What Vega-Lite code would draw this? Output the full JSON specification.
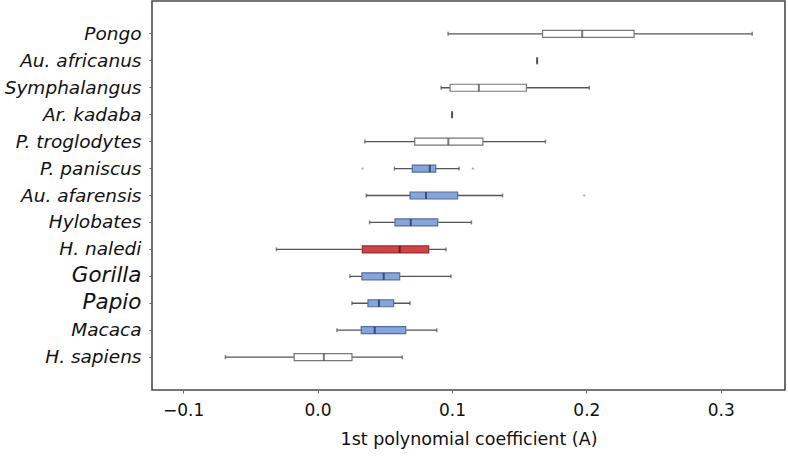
{
  "$schema": "https://vega.github.io/schema/vega-lite/v6.json",
  "width": 633,
  "height": 389,
  "autosize": {"type": "none"},
  "padding": {"left": 152, "top": 1, "right": 3, "bottom": 66},
  "background": "white",
  "config": {
    "view": {"stroke": "#4a4a4a", "strokeWidth": 1.6},
    "font": "DejaVu Sans"
  },
  "datasets": {
    "boxes": [
      {"species": "Pongo", "grp": "white", "lo": 0.0971, "q1": 0.1674, "med": 0.1969, "q3": 0.2355, "hi": 0.3234},
      {"species": "Au. africanus", "grp": "white", "lo": 0.1634, "q1": 0.1634, "med": 0.1634, "q3": 0.1634, "hi": 0.1634},
      {"species": "Symphalangus", "grp": "white", "lo": 0.0919, "q1": 0.0986, "med": 0.12, "q3": 0.1554, "hi": 0.2022},
      {"species": "Ar. kadaba", "grp": "white", "lo": 0.1001, "q1": 0.1001, "med": 0.1001, "q3": 0.1001, "hi": 0.1001},
      {"species": "P. troglodytes", "grp": "white", "lo": 0.0352, "q1": 0.0723, "med": 0.0973, "q3": 0.123, "hi": 0.1696},
      {"species": "P. paniscus", "grp": "blue", "lo": 0.0572, "q1": 0.0705, "med": 0.0835, "q3": 0.0879, "hi": 0.1053},
      {"species": "Au. afarensis", "grp": "blue", "lo": 0.0362, "q1": 0.0688, "med": 0.0807, "q3": 0.1042, "hi": 0.1376},
      {"species": "Hylobates", "grp": "blue", "lo": 0.0387, "q1": 0.0576, "med": 0.0693, "q3": 0.0894, "hi": 0.1145},
      {"species": "H. naledi", "grp": "red", "lo": -0.0306, "q1": 0.0333, "med": 0.0611, "q3": 0.0827, "hi": 0.0956},
      {"species": "Gorilla", "grp": "blue", "lo": 0.0241, "q1": 0.033, "med": 0.0492, "q3": 0.0611, "hi": 0.0993},
      {"species": "Papio", "grp": "blue", "lo": 0.0256, "q1": 0.0375, "med": 0.0457, "q3": 0.0566, "hi": 0.0688},
      {"species": "Macaca", "grp": "blue", "lo": 0.0144, "q1": 0.0325, "med": 0.0425, "q3": 0.0656, "hi": 0.0887},
      {"species": "H. sapiens", "grp": "white", "lo": -0.0686, "q1": -0.0174, "med": 0.0047, "q3": 0.0256, "hi": 0.063}
    ],
    "outliers": [
      {"species": "P. paniscus", "value": 0.0335},
      {"species": "P. paniscus", "value": 0.1155},
      {"species": "Au. afarensis", "value": 0.1984}
    ]
  },
  "encoding": {
    "y": {
      "field": "species",
      "type": "nominal",
      "sort": ["Pongo", "Au. africanus", "Symphalangus", "Ar. kadaba", "P. troglodytes", "P. paniscus", "Au. afarensis", "Hylobates", "H. naledi", "Gorilla", "Papio", "Macaca", "H. sapiens"],
      "scale": {"type": "band", "paddingInner": 0, "paddingOuter": 0.72},
      "axis": {
        "title": null,
        "domain": false,
        "ticks": true,
        "tickSize": 3,
        "tickColor": "#666",
        "labelPadding": 8,
        "labelFont": "DejaVu Sans",
        "labelFontStyle": "italic",
        "labelColor": "#111",
        "labelFontSize": {"condition": {"test": "datum.value === 'Gorilla' || datum.value === 'Papio'", "value": 21.5}, "value": 18.5},
        "labelLimit": 200
      }
    }
  },
  "layer": [
    {
      "data": {"name": "boxes"},
      "mark": {"type": "rule", "color": "#555", "strokeWidth": 1.3},
      "encoding": {
        "x": {
          "field": "lo",
          "type": "quantitative",
          "scale": {"domain": [-0.1232, 0.3478], "nice": false, "zero": false},
          "axis": {
            "title": "1st polynomial coefficient (A)",
            "values": [-0.1, 0, 0.1, 0.2, 0.3],
            "format": ".1f",
            "grid": false,
            "domain": false,
            "tickSize": 3,
            "tickColor": "#666",
            "labelPadding": 9,
            "labelFont": "DejaVu Sans",
            "labelFontSize": 17,
            "labelColor": "#111",
            "labelExpr": "replace(datum.label, '-', '\u2013')",
            "titleFont": "DejaVu Sans",
            "titleFontSize": 17.5,
            "titleFontWeight": "normal",
            "titleColor": "#111",
            "titlePadding": 12
          }
        },
        "x2": {"field": "hi"}
      }
    },
    {
      "data": {"name": "boxes"},
      "mark": {"type": "tick", "color": "#555", "thickness": 1.5, "size": 4},
      "encoding": {"x": {"field": "lo", "type": "quantitative"}}
    },
    {
      "data": {"name": "boxes"},
      "mark": {"type": "tick", "color": "#555", "thickness": 1.5, "size": 4},
      "encoding": {"x": {"field": "hi", "type": "quantitative"}}
    },
    {
      "data": {"name": "boxes"},
      "mark": {"type": "bar", "height": 7, "strokeWidth": 1.2},
      "encoding": {
        "x": {"field": "q1", "type": "quantitative"},
        "x2": {"field": "q3"},
        "fill": {"field": "grp", "type": "nominal", "scale": {"domain": ["white", "blue", "red"], "range": ["#ffffff", "#87a5d9", "#d04443"]}, "legend": null},
        "stroke": {"field": "grp", "type": "nominal", "scale": {"domain": ["white", "blue", "red"], "range": ["#777777", "#51709f", "#9a2e2e"]}, "legend": null}
      }
    },
    {
      "data": {"name": "boxes"},
      "mark": {"type": "tick", "thickness": 2, "size": 7},
      "encoding": {
        "x": {"field": "med", "type": "quantitative"},
        "color": {"field": "grp", "type": "nominal", "scale": {"domain": ["white", "blue", "red"], "range": ["#444444", "#1c2a44", "#3a1010"]}, "legend": null}
      }
    },
    {
      "data": {"name": "outliers"},
      "mark": {"type": "circle", "size": 5, "color": "#9aa6c0", "opacity": 1},
      "encoding": {"x": {"field": "value", "type": "quantitative"}}
    }
  ],
  "resolve": {"scale": {"color": "independent", "fill": "independent", "stroke": "independent"}}
}
